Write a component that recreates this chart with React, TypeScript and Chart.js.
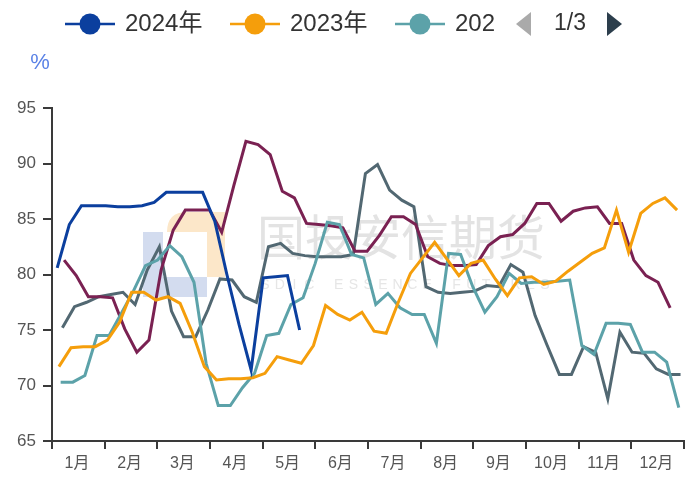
import React, { useEffect, useRef } from 'react';
import { Chart, registerables } from 'chart.js';

Chart.register(...registerables);

const months = ['1月', '2月', '3月', '4月', '5月', '6月', '7月', '8月', '9月', '10月', '11月', '12月'];
const seriesNames = ['2024年', '2023年', '2022年', '2021年', '2020年'];
const seriesColors = ['#0b3f9e', '#f59e0b', '#5ca2a9', '#7a2152', '#526872'];
// day of year of the first weekly observation of each series
const startDays = [3, 4, 5, 7, 6];

const s2024 = [80.6, 84.5, 86.2, 86.2, 86.2, 86.1, 86.1, 86.2, 86.5, 87.4, 87.4, 87.4, 87.4, 84.8, 80.0, 75.5, 71.4, 79.7, 79.8, 79.9, 75.0];
const s2023 = [71.7, 73.4, 73.5, 73.5, 74.1, 75.7, 78.4, 78.4, 77.7, 78.0, 77.4, 74.8, 71.7, 70.5, 70.6, 70.6, 70.7, 71.1, 72.6, 72.3, 72.0, 73.6, 77.2, 76.4, 75.9, 76.6, 74.9, 74.7, 77.5, 80.1, 81.5, 82.9, 81.4, 79.9, 81.0, 81.3, 79.6, 78.1, 79.7, 79.8, 79.1, 79.4, 80.3, 81.1, 81.9, 82.4, 85.8, 82.0, 85.5, 86.4, 86.9, 85.8];
const s2022 = [70.3, 70.3, 70.9, 74.5, 74.5, 76.5, 78.5, 80.8, 81.3, 82.6, 81.6, 79.3, 72.0, 68.2, 68.2, 69.8, 71.1, 74.5, 74.7, 77.3, 77.9, 81.0, 84.7, 84.5, 81.8, 81.5, 77.3, 78.3, 77.0, 76.4, 76.4, 73.8, 81.9, 81.8, 78.9, 76.6, 78.0, 80.1, 79.2, 79.3, 79.3, 79.4, 79.5, 73.6, 72.8, 75.6, 75.6, 75.5, 73.0, 73.0, 72.1, 68.0];
const s2021 = [81.3, 79.9, 78.0, 78.0, 77.9, 75.1, 73.0, 74.1, 80.4, 84.0, 85.8, 85.8, 85.8, 83.8, 88.0, 92.0, 91.7, 90.8, 87.5, 86.9, 84.6, 84.5, 84.4, 84.2, 82.1, 82.1, 83.5, 85.2, 85.2, 84.5, 81.6, 81.0, 80.8, 80.8, 80.9, 82.6, 83.4, 83.6, 84.6, 86.4, 86.4, 84.8, 85.7, 86.0, 86.1, 84.6, 84.6, 81.3, 79.9, 79.3, 77.0];
const s2020 = [75.2, 77.1, 77.5, 78.0, 78.2, 78.4, 77.3, 80.4, 82.5, 76.7, 74.4, 74.4, 76.8, 79.6, 79.5, 78.0, 77.5, 82.5, 82.8, 81.9, 81.7, 81.6, 81.6, 81.6, 81.8, 89.1, 89.9, 87.6, 86.7, 86.1, 78.9, 78.4, 78.3, 78.4, 78.5, 79.0, 78.9, 80.9, 80.2, 76.3, 73.6, 71.0, 71.0, 73.5, 73.0, 68.8, 74.8, 73.0, 72.9, 71.5, 71.0, 71.0];

const seriesValues = [s2024, s2023, s2022, s2021, s2020];
const yTicks = [65, 70, 75, 80, 85, 90, 95];
const legendShown = ['2024年', '2023年', '202'];

const FONT = '"Liberation Sans", "Noto Sans CJK SC", sans-serif';

const toPoints = (vals: number[], start: number) =>
  vals.map((v, i) => ({ x: ((start + 7 * i) / 365) * 12, y: v }));

const decorPlugin = {
  id: 'decor',
  beforeDatasetsDraw(chart: any) {
    const ctx = chart.ctx as CanvasRenderingContext2D;
    ctx.save();
    // logo
    ctx.fillStyle = '#d3dcef';
    ctx.fillRect(143, 232, 20, 65);
    ctx.fillRect(163, 277, 44, 20);
    ctx.fillStyle = '#fce7c9';
    ctx.beginPath();
    ctx.moveTo(167, 232);
    ctx.quadraticCurveTo(167, 212, 187, 212);
    ctx.lineTo(225, 212);
    ctx.lineTo(225, 277);
    ctx.lineTo(207, 277);
    ctx.lineTo(207, 232);
    ctx.closePath();
    ctx.fill();
    // watermark text
    ctx.fillStyle = '#e3e3e3';
    ctx.font = '48px "Noto Sans CJK SC", sans-serif';
    ctx.textAlign = 'center';
    ctx.textBaseline = 'middle';
    ctx.fillText('国投安信期货', 401, 237);
    ctx.font = '14px ' + FONT;
    ctx.fillStyle = '#e6e6e6';
    const sub = 'SDIC ESSENCE FUTURES';
    const step = (545 - 265) / (sub.length - 1);
    for (let i = 0; i < sub.length; i++) {
      ctx.fillText(sub[i], 265 + i * step, 285);
    }
    ctx.restore();
  },
  afterDraw(chart: any) {
    const ctx = chart.ctx as CanvasRenderingContext2D;
    ctx.save();
    // unit
    ctx.fillStyle = '#5a82e6';
    ctx.font = '22px ' + FONT;
    ctx.textAlign = 'center';
    ctx.textBaseline = 'middle';
    ctx.fillText('%', 40, 63);
    // legend (page 1 of 3)
    const y = 24;
    const starts = [65, 230, 395];
    ctx.font = '24px ' + FONT;
    ctx.textAlign = 'left';
    for (let i = 0; i < 3; i++) {
      const x = starts[i];
      const color = seriesColors[i];
      ctx.strokeStyle = color;
      ctx.lineWidth = 2.5;
      ctx.beginPath();
      ctx.moveTo(x, y);
      ctx.lineTo(x + 50, y);
      ctx.stroke();
      ctx.fillStyle = color;
      ctx.beginPath();
      ctx.arc(x + 25, y, 10.5, 0, Math.PI * 2);
      ctx.fill();
      ctx.fillStyle = '#333';
      ctx.fillText(legendShown[i], x + 60, y);
    }
    // pager
    ctx.fillStyle = '#aaaaaa';
    ctx.beginPath();
    ctx.moveTo(516, y);
    ctx.lineTo(531, y - 12);
    ctx.lineTo(531, y + 12);
    ctx.closePath();
    ctx.fill();
    ctx.fillStyle = '#333';
    ctx.font = '23px ' + FONT;
    ctx.textAlign = 'center';
    ctx.fillText('1/3', 570, y);
    ctx.fillStyle = '#2c3e4c';
    ctx.beginPath();
    ctx.moveTo(607, y - 12);
    ctx.lineTo(622, y);
    ctx.lineTo(607, y + 12);
    ctx.closePath();
    ctx.fill();
    ctx.restore();
  },
};

export default function App() {
  const ref = useRef<HTMLCanvasElement | null>(null);
  useEffect(() => {
    document.body.style.margin = '0';
    if (!ref.current) return;
    const chart = new Chart(ref.current, {
      type: 'line',
      data: {
        datasets: seriesValues.map((vals, i) => ({
          label: seriesNames[i],
          data: toPoints(vals, startDays[i]),
          borderColor: seriesColors[i],
          backgroundColor: seriesColors[i],
          borderWidth: 3,
          pointRadius: 0,
          tension: 0,
          fill: false,
        })),
      },
      options: {
        animation: false,
        responsive: false,
        layout: { padding: { top: 108, right: 16, left: 0, bottom: 0 } },
        plugins: { legend: { display: false }, tooltip: { enabled: false } },
        scales: {
          x: {
            type: 'linear',
            min: 0,
            max: 12,
            afterBuildTicks: (scale: any) => {
              scale.ticks = months.map((_, i) => ({ value: i })).concat([{ value: 12 }]);
            },
            afterFit: (scale: any) => {
              scale.height = 38;
            },
            ticks: {
              autoSkip: false,
              maxRotation: 0,
              labelOffset: 25,
              padding: 5,
              color: '#555',
              font: { size: 16, family: FONT },
              callback: (v: any) => (v < 12 ? months[v] : ''),
            },
            grid: { drawOnChartArea: false, drawTicks: true, tickLength: 8, color: '#3a3a3a', lineWidth: 2 },
            border: { display: true, color: '#3a3a3a', width: 2 },
          },
          y: {
            type: 'linear',
            min: yTicks[0],
            max: yTicks[yTicks.length - 1],
            afterBuildTicks: (scale: any) => {
              scale.ticks = yTicks.map((v) => ({ value: v }));
            },
            afterFit: (scale: any) => {
              scale.width = 52;
            },
            ticks: {
              padding: 7,
              color: '#555',
              font: { size: 17, family: FONT },
            },
            grid: { drawOnChartArea: false, drawTicks: true, tickLength: 9, color: '#3a3a3a', lineWidth: 2 },
            border: { display: true, color: '#3a3a3a', width: 2 },
          },
        },
      },
      plugins: [decorPlugin],
    } as any);
    return () => chart.destroy();
  }, []);
  return (
    <div style={{ width: 700, height: 479 }}>
      <canvas ref={ref} width={700} height={479} style={{ display: 'block' }} />
    </div>
  );
}
